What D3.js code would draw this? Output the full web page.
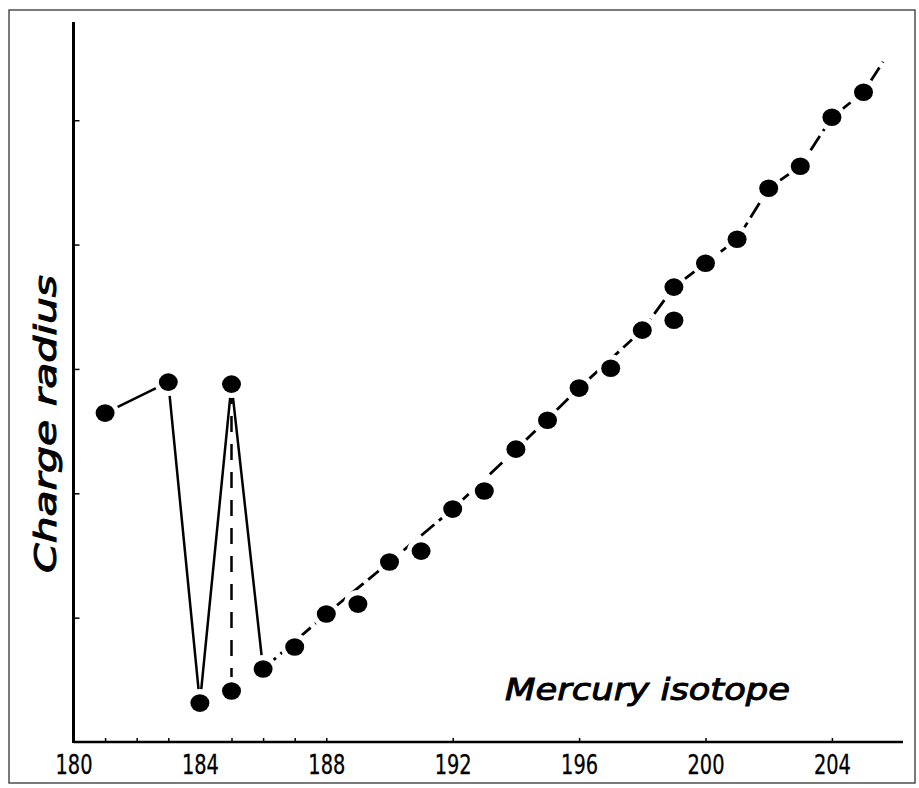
<!DOCTYPE html>
<html>
<head>
<meta charset="utf-8">
<script src="https://cdn.jsdelivr.net/npm/d3@7"></script>
<style>
  body { margin: 0; background: #fff; }
  svg { display: block; }
</style>
</head>
<body>
<div id="chart"></div>
<script>
// measured points (isotope mass number, charge radius in arbitrary units)
const isotopes = [181, 183, 184, 185, 185, 186, 187, 188, 189, 190, 191, 192, 193,
                  194, 195, 196, 197, 198, 199, 199, 200, 201, 202, 203, 204, 205];
const radii = [2.645, 2.894, 0.313, 2.878, 0.41, 0.587, 0.764, 1.029, 1.109, 1.447, 1.535,
               1.873, 2.018, 2.355, 2.588, 2.846, 3.006, 3.312, 3.658, 3.392, 3.85, 4.043,
               4.453, 4.63, 5.024, 5.225];

// solid zig-zag 181-183-184-185-186 and dashed drop at 185 (indices into points)
const zigzag = [0, 1, 2, 3, 5];
const drop = [3, 4];

// dashed trend through the heavy isotopes
const trendIso = [186, 188, 190, 192, 194, 196, 198, 199, 200, 201, 202, 203, 204, 205, 205.62];
const trendR = [0.587, 1.029, 1.447, 1.873, 2.35, 2.846, 3.312, 3.658, 3.85, 4.043, 4.453, 4.63, 5.024, 5.225, 5.47];

const labelTicks = [180, 184, 188, 192, 196, 200, 204];
const minorTicks = [181, 182, 183, 185, 186, 187, 188, 192, 196, 200, 204];
const yTicks = [1, 2, 3, 4, 5];

const width = 919, height = 788;
const svg = d3.select("#chart").append("svg")
    .attr("width", width).attr("height", height);

svg.append("rect")
    .attr("x", 9).attr("y", 10).attr("width", 906).attr("height", 773)
    .attr("fill", "#fff").attr("stroke", "#333").attr("stroke-width", 1.3);

const x = d3.scaleLinear().domain([180, 206.25]).range([73.5, 903]);
const y = d3.scaleLinear().domain([0, 5.79]).range([742, 22]);

const points = isotopes.map((iso, i) => ({ iso, r: radii[i] }));
const line = d3.line().x(d => x(d.iso)).y(d => y(d.r));

// axes
const xAxis = svg.append("g")
    .attr("transform", `translate(0,${y(0)})`)
    .call(d3.axisBottom(x).tickValues(labelTicks).tickSize(0).tickPadding(13)
        .tickFormat(d3.format("d")));
xAxis.select(".domain").remove();
xAxis.selectAll("text")
    .attr("font-family", "'Liberation Sans Narrow', 'DejaVu Sans Condensed', sans-serif")
    .attr("font-size", 27).attr("fill", "#000")
    .attr("textLength", 37).attr("lengthAdjust", "spacingAndGlyphs")
    .attr("stroke", "#000").attr("stroke-width", 0.3);

const xMinor = svg.append("g")
    .attr("transform", `translate(0,${y(0)})`)
    .call(d3.axisBottom(x).tickValues(minorTicks).tickSize(-4).tickFormat(""));
xMinor.select(".domain").remove();
xMinor.selectAll("line").attr("stroke", "#000").attr("stroke-width", 1.5);

const yAxis = svg.append("g")
    .attr("transform", `translate(${x(180)},0)`)
    .call(d3.axisLeft(y).tickValues(yTicks).tickSize(-6).tickFormat(""));
yAxis.select(".domain").remove();
yAxis.selectAll("line").attr("stroke", "#000").attr("stroke-width", 1.5);

svg.append("line")
    .attr("x1", x(180)).attr("x2", x(206.25))
    .attr("y1", y(0)).attr("y2", y(0))
    .attr("stroke", "#000").attr("stroke-width", 2.5);
svg.append("line")
    .attr("x1", x(180)).attr("x2", x(180))
    .attr("y1", y(0) + 1).attr("y2", y(5.79))
    .attr("stroke", "#000").attr("stroke-width", 3);

// lines
svg.append("path")
    .attr("d", line(trendIso.map((iso, i) => ({ iso, r: trendR[i] }))))
    .attr("fill", "none").attr("stroke", "#000").attr("stroke-width", 2.8)
    .attr("stroke-dasharray", "17,6");

svg.append("path")
    .attr("d", line(drop.map(i => points[i])))
    .attr("fill", "none").attr("stroke", "#000").attr("stroke-width", 2.5)
    .attr("stroke-dasharray", "16,12").attr("stroke-dashoffset", -4);

svg.append("path")
    .attr("d", line(zigzag.map(i => points[i])))
    .attr("fill", "none").attr("stroke", "#000").attr("stroke-width", 2.5)
    .attr("stroke-linejoin", "bevel");

// white halos leave small gaps where lines meet the dots
svg.append("g").selectAll("circle")
    .data(points)
    .enter().append("circle")
    .attr("cx", d => x(d.iso))
    .attr("cy", d => y(d.r))
    .attr("r", 14)
    .attr("fill", "#fff");

svg.append("g").selectAll("ellipse")
    .data(points)
    .enter().append("ellipse")
    .attr("cx", d => x(d.iso))
    .attr("cy", d => y(d.r))
    .attr("rx", 9.5).attr("ry", 8.8)
    .attr("fill", "#000");

// hand-lettered titles
svg.append("text")
    .attr("x", 505).attr("y", 700)
    .attr("font-family", "'DejaVu Sans', sans-serif")
    .attr("font-style", "italic")
    .attr("font-size", 31)
    .attr("stroke", "#000").attr("stroke-width", 1)
    .attr("textLength", 285).attr("lengthAdjust", "spacingAndGlyphs")
    .text("Mercury  isotope");

svg.append("text")
    .attr("transform", "translate(56,424) rotate(-90)")
    .attr("text-anchor", "middle")
    .attr("font-family", "'DejaVu Sans', sans-serif")
    .attr("font-style", "italic")
    .attr("font-size", 31)
    .attr("stroke", "#000").attr("stroke-width", 1)
    .attr("textLength", 298).attr("lengthAdjust", "spacingAndGlyphs")
    .text("Charge  radius");
</script>
</body>
</html>
